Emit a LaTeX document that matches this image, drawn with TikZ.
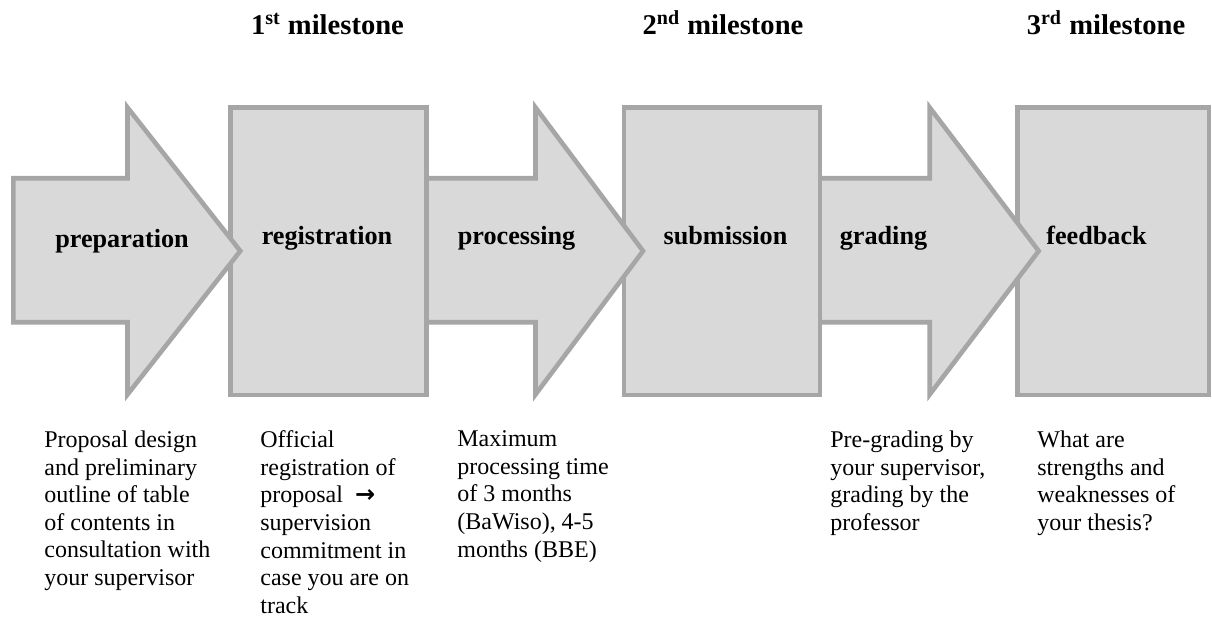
\documentclass[tikz,border=0pt]{standalone}
\usepackage{fontspec}
\setmainfont{Liberation Serif}
\newfontfamily\arrowfont{DejaVu Sans}
\definecolor{stageline}{HTML}{A6A6A6}
\definecolor{stagefill}{HTML}{D9D9D9}

\begin{document}
\begin{tikzpicture}[x=0.5pt,y=-0.5pt,
  stage/.style={draw=stageline, fill=stagefill, line width=2.3pt},
  phaselabel/.style={anchor=base, inner sep=0pt, font=\fontsize{13.1}{15}\selectfont\bfseries},
  milestone/.style={anchor=base, inner sep=0pt, font=\fontsize{14.3}{16}\selectfont\bfseries},
  desctext/.style={anchor=north west, inner sep=0pt, align=left, font=\fontsize{12}{13.8}\selectfont}]
\useasboundingbox (0,0) rectangle (1212,619);
\def\arrowshape#1#2#3{(#1,178.3) -- (#2,178.3) -- (#2,107.5) -- (#3,251) -- (#2,394.5) -- (#2,322.3) -- (#1,322.3) -- cycle}
\def\boxshape#1#2{(#1,107.7) rectangle (#2,395)}

% drawn from right to left, so every tip lies on the next box
\draw[stage] \boxshape{1017.3}{1209};
\draw[stage] \arrowshape{815}{929.7}{1038.7};
\draw[stage] \boxshape{624}{820};
\draw[stage] \arrowshape{420}{535.5}{643};
\draw[stage] \boxshape{230.7}{426.7};
\draw[stage] \arrowshape{13.3}{127.5}{240.3};

% milestones
\node[milestone] (firstms) at (327.5,35) {1\textsuperscript{st} milestone};
\node[milestone] (secondms) at (723,35) {2\textsuperscript{nd} milestone};
\node[milestone] (thirdms) at (1106,35) {3\textsuperscript{rd} milestone};

% phases
\node[phaselabel] (prep) at (122,247.5) {preparation};
\node[phaselabel] (reg) at (327,245) {registration};
\node[phaselabel] (proc) at (516.5,245) {processing};
\node[phaselabel] (subm) at (725.5,245) {submission};
\node[phaselabel] (grad) at (883.5,245) {grading};
\node[phaselabel] (feed) at (1096.5,245) {feedback};

% descriptions
\node[desctext] (prepdesc) at (44,430.5) {Proposal design\\and preliminary\\outline of table\\of contents in\\consultation with\\your supervisor};
\node[desctext] (regdesc) at (260,430.5) {Official\\registration of\\proposal\ \ {\arrowfont\bfseries →}\\supervision\\commitment in\\case you are on\\track};
\node[desctext] (procdesc) at (457,430.5) {Maximum\\processing time\\of 3 months\\(BaWiso), 4-5\\months (BBE)};
\node[desctext] (graddesc) at (830,430.5) {Pre-grading by\\your supervisor,\\grading by the\\professor};
\node[desctext] (feeddesc) at (1037,430.5) {What are\\strengths and\\weaknesses of\\your thesis?};
\end{tikzpicture}
\end{document}
